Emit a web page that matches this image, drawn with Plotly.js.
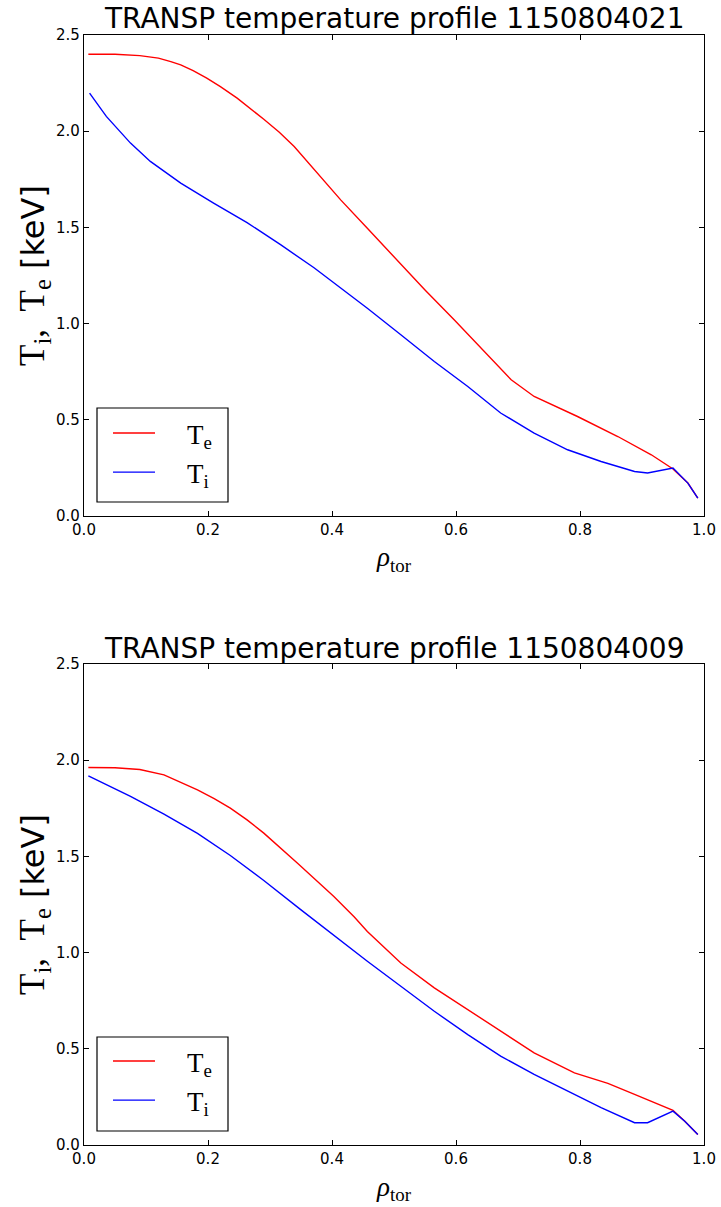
<!DOCTYPE html>
<html>
<head>
<meta charset="utf-8">
<script src="https://cdn.plot.ly/plotly-3.0.1.min.js"></script>
<style>html,body{margin:0;padding:0;background:#fff;}</style>
</head>
<body>
<div id="chart" style="width:721px;height:1207px;"></div>
<script>
// Shot 1150804021
const rho_Te_021 = [0.007, 0.05, 0.09, 0.12, 0.14, 0.156, 0.176, 0.198, 0.22, 0.247, 0.29, 0.315, 0.339, 0.371, 0.414, 0.457, 0.505, 0.55, 0.597, 0.645, 0.689, 0.726, 0.75, 0.796, 0.861, 0.915, 0.95, 0.974, 0.99];
const Te_021     = [2.40, 2.40, 2.393, 2.38, 2.362, 2.345, 2.315, 2.276, 2.232, 2.172, 2.062, 1.995, 1.92, 1.80, 1.643, 1.495, 1.33, 1.175, 1.02, 0.86, 0.708, 0.621, 0.585, 0.517, 0.413, 0.318, 0.244, 0.171, 0.093];
const rho_Ti_021 = [0.009, 0.036, 0.075, 0.107, 0.156, 0.209, 0.263, 0.317, 0.371, 0.414, 0.457, 0.511, 0.565, 0.619, 0.672, 0.726, 0.78, 0.834, 0.888, 0.909, 0.95, 0.974, 0.99];
const Ti_021     = [2.198, 2.077, 1.938, 1.843, 1.730, 1.626, 1.525, 1.41, 1.29, 1.185, 1.08, 0.942, 0.803, 0.673, 0.535, 0.431, 0.344, 0.283, 0.231, 0.223, 0.249, 0.171, 0.093];

// Shot 1150804009
const rho_Te_009 = [0.007, 0.05, 0.09, 0.129, 0.183, 0.21, 0.236, 0.263, 0.29, 0.317, 0.344, 0.403, 0.436, 0.457, 0.511, 0.565, 0.619, 0.672, 0.726, 0.791, 0.845, 0.888, 0.92, 0.95, 0.969, 0.99];
const Te_009     = [1.962, 1.961, 1.952, 1.924, 1.846, 1.80, 1.751, 1.69, 1.621, 1.545, 1.466, 1.292, 1.185, 1.11, 0.946, 0.817, 0.704, 0.591, 0.479, 0.375, 0.32, 0.263, 0.22, 0.18, 0.124, 0.055];
const rho_Ti_009 = [0.007, 0.075, 0.129, 0.183, 0.236, 0.29, 0.349, 0.403, 0.457, 0.511, 0.565, 0.619, 0.672, 0.726, 0.78, 0.834, 0.888, 0.909, 0.95, 0.969, 0.99];
const Ti_009     = [1.919, 1.812, 1.72, 1.62, 1.505, 1.375, 1.225, 1.09, 0.955, 0.825, 0.695, 0.574, 0.462, 0.367, 0.28, 0.194, 0.116, 0.116, 0.176, 0.124, 0.055];

const titles = ["TRANSP temperature profile 1150804021", "TRANSP temperature profile 1150804009"];
const xTicks = [0, 0.2, 0.4, 0.6, 0.8, 1.0];
const yTicks = [0, 0.5, 1.0, 1.5, 2.0, 2.5];
const legendNames = ["\u00a0\u00a0\u00a0\u00a0T<sub>e</sub>", "\u00a0\u00a0\u00a0\u00a0T<sub>i</sub>"];

const RED = "#ff0000", BLUE = "#0000ff";
const LW = 1.4;

const traces = [
  {x: rho_Te_021, y: Te_021, xaxis: "x", yaxis: "y", mode: "lines", name: legendNames[0],
   line: {color: RED, width: LW}, legend: "legend", legendgroup: "e1"},
  {x: rho_Ti_021, y: Ti_021, xaxis: "x", yaxis: "y", mode: "lines", name: legendNames[1],
   line: {color: BLUE, width: LW}, legend: "legend", legendgroup: "i1"},
  {x: rho_Te_009, y: Te_009, xaxis: "x2", yaxis: "y2", mode: "lines", name: legendNames[0],
   line: {color: RED, width: LW}, legend: "legend2", legendgroup: "e2"},
  {x: rho_Ti_009, y: Ti_009, xaxis: "x2", yaxis: "y2", mode: "lines", name: legendNames[1],
   line: {color: BLUE, width: LW}, legend: "legend2", legendgroup: "i2"}
];

const tickFont = {family: "DejaVu Sans", size: 15, color: "#000"};
const serif = "Liberation Serif";

function xAxis(anchor) {
  return {
    anchor: anchor, domain: [0, 1], range: [0, 1],
    tickvals: xTicks, tickformat: ".1f",
    ticks: "inside", ticklen: 5, tickwidth: 1, tickcolor: "#000",
    showline: true, linecolor: "#000", linewidth: 1.2, mirror: "ticks",
    showgrid: false, zeroline: false, tickfont: tickFont,
    title: {text: "<i>ρ</i><sub>tor</sub>", font: {family: serif, size: 27, color: "#000"}, standoff: 9}
  };
}
function yAxis(anchor, domain) {
  return {
    anchor: anchor, domain: domain, range: [0, 2.5],
    tickvals: yTicks, tickformat: ".1f",
    ticks: "inside", ticklen: 5, tickwidth: 1, tickcolor: "#000",
    showline: true, linecolor: "#000", linewidth: 1.2, mirror: "ticks",
    showgrid: false, zeroline: false, tickfont: tickFont,
    title: {text: "<span style=\"font-family:'Liberation Serif';font-size:35px\">T<sub>i</sub>,\u00a0\u00a0T<sub>e</sub></span> [keV]",
            font: {family: "DejaVu Sans", size: 32, color: "#000"}, standoff: 0}
  };
}

// legend frame drawn in paper coordinates (px -> paper)
const PX = (px) => (px - 84) / 620;
const PY = (py) => (1145 - py) / 1110;

const legendStyle = (y) => ({
  x: PX(108), y: y, xanchor: "left", yanchor: "top",
  bgcolor: "rgba(0,0,0,0)", borderwidth: 0,
  font: {family: serif, size: 27, color: "#000"},
  tracegroupgap: 1, itemwidth: 42
});

const boxShape = (top, bottom) => ({
  type: "rect", xref: "paper", yref: "paper",
  x0: PX(97), x1: PX(228), y0: PY(bottom), y1: PY(top),
  line: {color: "#000", width: 1.2}, fillcolor: "#fff", layer: "below"
});

const layout = {
  width: 721, height: 1207,
  margin: {l: 84, r: 17, t: 35, b: 62},
  paper_bgcolor: "#fff", plot_bgcolor: "rgba(0,0,0,0)",
  showlegend: true,
  xaxis: xAxis("y"),
  yaxis: yAxis("x", [0.5667, 1]),
  xaxis2: xAxis("y2"),
  yaxis2: yAxis("x2", [0, 0.4333]),
  legend: legendStyle(PY(409)),
  legend2: legendStyle(PY(1037)),
  shapes: [boxShape(408, 502), boxShape(1037, 1131)],
  annotations: [
    {text: titles[0], xref: "paper", yref: "paper", x: 0.5, y: 1.0153, xanchor: "center", yanchor: "middle",
     showarrow: false, font: {family: "DejaVu Sans", size: 28, color: "#000"}},
    {text: titles[1], xref: "paper", yref: "paper", x: 0.5, y: 0.4477, xanchor: "center", yanchor: "middle",
     showarrow: false, font: {family: "DejaVu Sans", size: 28, color: "#000"}}
  ]
};

Plotly.newPlot("chart", traces, layout, {displayModeBar: false, staticPlot: true});
</script>
</body>
</html>
